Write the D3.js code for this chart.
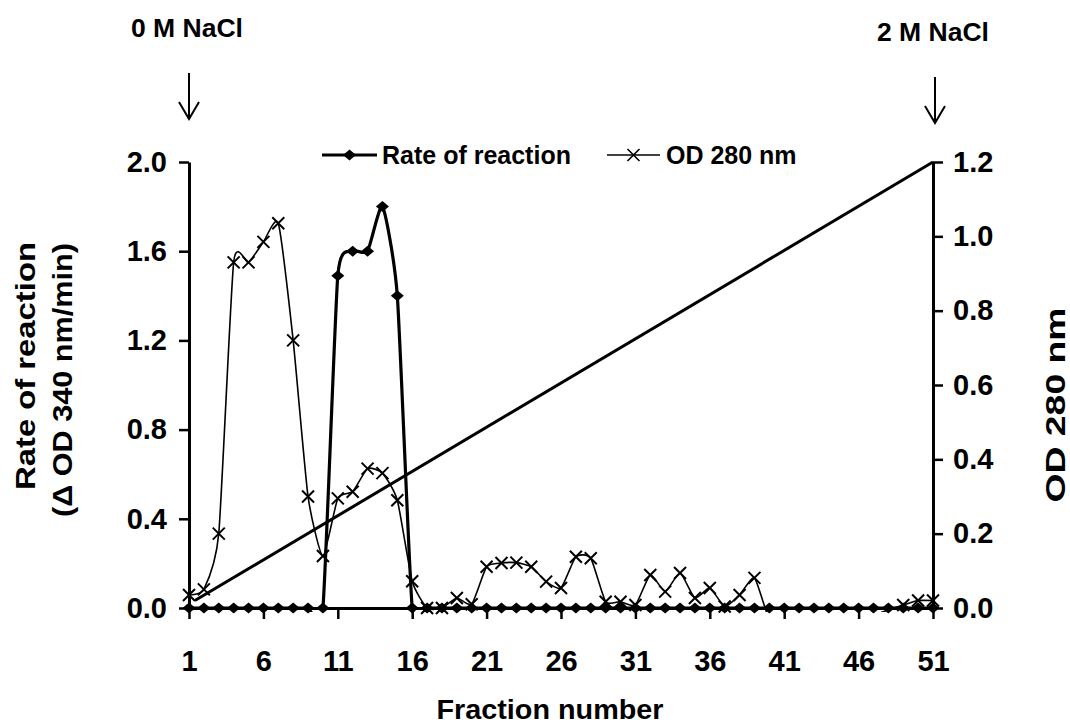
<!DOCTYPE html>
<html>
<head>
<meta charset="utf-8">
<script src="https://cdn.jsdelivr.net/npm/d3@7"></script>
<style>
  body { margin: 0; background: #fff; }
  svg text { font-family: Arial, "Liberation Sans", sans-serif; font-weight: bold; fill: #000; }
</style>
</head>
<body>
<svg id="chart" width="1070" height="726"></svg>
<script>
// fraction numbers 1..51
var fractions = d3.range(1, 52);

// rate of reaction (delta OD 340 nm/min), left axis
var rateOfReaction = [0, 0, 0, 0, 0, 0, 0, 0, 0, 0,
  1.49, 1.6, 1.6, 1.8, 1.4,
  0, 0, 0, 0, 0, 0, 0, 0, 0, 0, 0, 0, 0, 0, 0, 0, 0, 0, 0, 0, 0,
  0, 0, 0, 0, 0, 0, 0, 0, 0, 0, 0, 0, 0, 0, 0, 0];

// OD 280 nm, right axis
var od280 = [0.035, 0.05, 0.20, 0.93, 0.93, 0.985, 1.035, 0.72, 0.30, 0.14,
  0.295, 0.313, 0.375, 0.363, 0.29, 0.072, 0.0, 0.0, 0.027, 0.01,
  0.111, 0.121, 0.122, 0.111, 0.071, 0.054, 0.138, 0.134, 0.017, 0.017,
  0.008, 0.089, 0.044, 0.094, 0.027, 0.054, 0.004, 0.035, 0.081, -0.03,
  -0.03, -0.03, -0.03, -0.03, -0.03, -0.03, -0.02, -0.005, 0.008, 0.02, 0.02];

// NaCl gradient line (fraction, right axis value)
var gradientFractions = [1.4, 51];
var gradientValues = [0.02, 1.2];

var xTicks = [1, 6, 11, 16, 21, 26, 31, 36, 41, 46, 51];
var leftTicks = [0, 0.4, 0.8, 1.2, 1.6, 2.0];
var rightTicks = [0, 0.2, 0.4, 0.6, 0.8, 1.0, 1.2];

var svg = d3.select("#chart"),
    margin = {top: 162, right: 137, bottom: 118, left: 189},
    width = +svg.attr("width") - margin.left - margin.right,
    height = +svg.attr("height") - margin.top - margin.bottom,
    g = svg.append("g").attr("transform", "translate(" + margin.left + "," + margin.top + ")");

svg.insert("rect", ":first-child").attr("width", 1070).attr("height", 726).attr("fill", "#fff");

var x = d3.scaleLinear().domain([1, 51]).range([0, width]),
    yLeft = d3.scaleLinear().domain([0, 2]).range([height, 0]),
    yRight = d3.scaleLinear().domain([0, 1.2]).range([height, 0]);

var rateData = fractions.map(function(f, i) { return {f: f, v: rateOfReaction[i]}; });
var odData = fractions.map(function(f, i) { return {f: f, v: od280[i]}; });
var gradData = gradientFractions.map(function(f, i) { return {f: f, v: gradientValues[i]}; });

// clip for the lines (plot area)
svg.append("defs").append("clipPath").attr("id", "plot")
  .append("rect").attr("x", -4).attr("y", -4).attr("width", width + 8).attr("height", height + 8);

function styleAxis(sel, size) {
  sel.attr("font-size", null).attr("font-family", null);
  sel.select(".domain").attr("stroke-width", 3);
  sel.selectAll(".tick line").attr("stroke-width", 2.5);
  sel.selectAll(".tick text").style("font-size", size + "px");
}

// x axis
g.append("g")
    .attr("transform", "translate(0," + height + ")")
    .call(d3.axisBottom(x).tickValues(xTicks).tickSize(11).tickSizeOuter(0).tickPadding(31).tickFormat(d3.format("d")))
    .call(styleAxis, 29);

// left axis
g.append("g")
    .call(d3.axisLeft(yLeft).tickValues(leftTicks).tickSize(10).tickSizeOuter(0).tickPadding(12).tickFormat(d3.format(".1f")))
    .call(styleAxis, 29);

// right axis
g.append("g")
    .attr("transform", "translate(" + width + ",0)")
    .call(d3.axisRight(yRight).tickValues(rightTicks).tickSize(10).tickSizeOuter(0).tickPadding(10).tickFormat(d3.format(".1f")))
    .call(styleAxis, 29);

// smoothed lines, some tension so the plateaus don't overshoot too much
var smooth = d3.curveCardinal.tension(0.45);

// gradient line
g.append("path")
    .datum(gradData)
    .attr("fill", "none").attr("stroke", "#000").attr("stroke-width", 3)
    .attr("d", d3.line().x(function(d) { return x(d.f); }).y(function(d) { return yRight(d.v); }));

// OD 280 line
g.append("path")
    .datum(odData)
    .attr("clip-path", "url(#plot)")
    .attr("fill", "none").attr("stroke", "#000").attr("stroke-width", 1.6)
    .attr("d", d3.line().curve(smooth).x(function(d) { return x(d.f); }).y(function(d) { return yRight(d.v); }));

var crossPath = "M-6,-6L6,6M-6,6L6,-6",
    diamondPath = "M0,-5.5L6.5,0L0,5.5L-6.5,0Z";

g.append("g").selectAll("path")
    .data(odData.filter(function(d) { return d.v >= 0; }))
    .enter().append("path")
    .attr("transform", function(d) { return "translate(" + x(d.f) + "," + yRight(d.v) + ")"; })
    .attr("d", crossPath).attr("fill", "none").attr("stroke", "#000").attr("stroke-width", 2);

// rate of reaction line
g.append("path")
    .datum(rateData)
    .attr("clip-path", "url(#plot)")
    .attr("fill", "none").attr("stroke", "#000").attr("stroke-width", 3.2)
    .attr("d", d3.line().curve(smooth).x(function(d) { return x(d.f); }).y(function(d) { return yLeft(d.v); }));

g.append("g").selectAll("path")
    .data(rateData)
    .enter().append("path")
    .attr("transform", function(d) { return "translate(" + x(d.f) + "," + yLeft(d.v) + ")"; })
    .attr("d", diamondPath).attr("fill", "#000");

// legend
var legend = svg.append("g").attr("transform", "translate(0,155)");
legend.append("line").attr("x1", 322).attr("x2", 377).attr("stroke", "#000").attr("stroke-width", 3.2);
legend.append("path").attr("transform", "translate(349.5,0)").attr("d", diamondPath).attr("fill", "#000");
legend.append("text").attr("x", 382).attr("dy", "0.35em").style("font-size", "25px").text("Rate of reaction");
legend.append("line").attr("x1", 607).attr("x2", 660).attr("stroke", "#000").attr("stroke-width", 1.6);
legend.append("path").attr("transform", "translate(633.5,0)").attr("d", crossPath).attr("fill", "none").attr("stroke", "#000").attr("stroke-width", 1.6);
legend.append("text").attr("x", 666).attr("dy", "0.35em").style("font-size", "25px").text("OD 280 nm");

// axis titles
svg.append("text")
    .attr("text-anchor", "middle")
    .attr("x", margin.left + width / 2 - 11).attr("y", 719)
    .attr("textLength", 227).attr("lengthAdjust", "spacingAndGlyphs")
    .style("font-size", "27px").text("Fraction number");

svg.append("text")
    .attr("text-anchor", "middle").attr("dy", "0.35em")
    .attr("transform", "translate(25,366) rotate(-90)")
    .attr("textLength", 248).attr("lengthAdjust", "spacingAndGlyphs")
    .style("font-size", "28px").text("Rate of reaction");

svg.append("text")
    .attr("text-anchor", "middle").attr("dy", "0.35em")
    .attr("transform", "translate(62,380) rotate(-90)")
    .attr("textLength", 274).attr("lengthAdjust", "spacingAndGlyphs")
    .style("font-size", "28px").text("(\u0394 OD 340 nm/min)");

svg.append("text")
    .attr("text-anchor", "middle").attr("dy", "0.35em")
    .attr("transform", "translate(1055,405) rotate(-90)")
    .attr("textLength", 195).attr("lengthAdjust", "spacingAndGlyphs")
    .style("font-size", "28px").text("OD 280 nm");

// NaCl markers with arrows
var saltLabels = ["0 M NaCl", "2 M NaCl"],
    saltFractions = [1, 51];

var salt = svg.append("g").selectAll("g")
    .data(saltFractions)
    .enter().append("g")
    .attr("transform", function(d, i) { return "translate(" + (margin.left + x(d) + (i ? 2 : 0)) + "," + (i ? 4 : 0) + ")"; });

salt.append("text")
    .attr("text-anchor", "middle").attr("x", -2).attr("y", 37)
    .attr("textLength", 112).attr("lengthAdjust", "spacingAndGlyphs")
    .style("font-size", "26px")
    .text(function(d, i) { return saltLabels[i]; });

salt.append("path")
    .attr("d", "M0,73V119M-10,102L0,119L10,102")
    .attr("fill", "none").attr("stroke", "#000").attr("stroke-width", 2);
</script>
</body>
</html>
